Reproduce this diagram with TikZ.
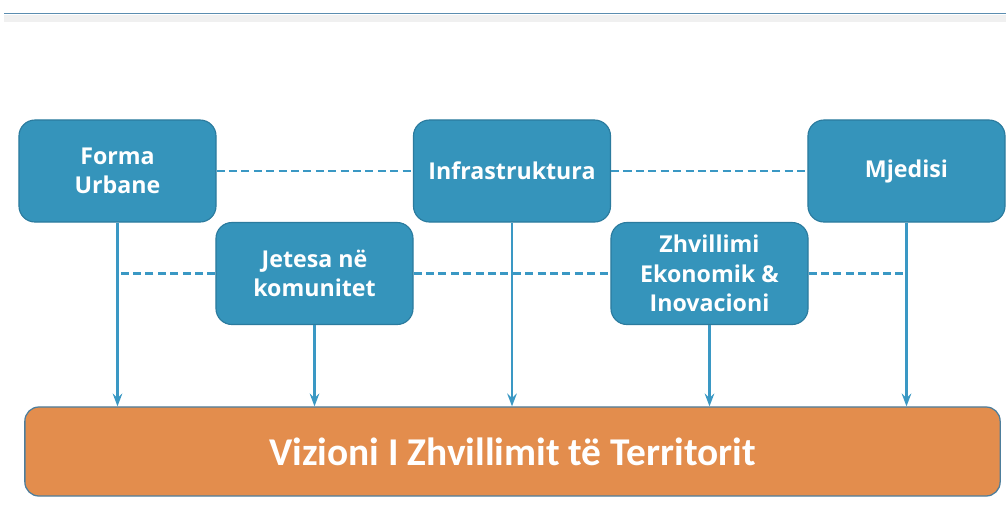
\documentclass[tikz,border=0pt]{standalone}
\usepackage{fontspec}
\setmainfont{Open Sans}
\newfontfamily\visionfont{Carlito}
\usepackage{tikz}
\usetikzlibrary{arrows.meta, positioning, calc}
\definecolor{boxblue}  {HTML}{3594BB}
\definecolor{boxedge}  {HTML}{2B7B9E}
\definecolor{linkblue} {HTML}{3A98C4}
\definecolor{visionor} {HTML}{E38D4D}
\definecolor{visionedge}{HTML}{4D7E9C}
\definecolor{ruleblue} {HTML}{5B8DB0}
\definecolor{rulegray} {HTML}{F0F0F0}
\tikzset{
  pillar/.style={
    rectangle, rounded corners=0.4cm,
    minimum width=4.925cm, minimum height=2.55cm,
    text centered, align=center, font=\fontsize{16.5}{21}\selectfont\bfseries,
    draw=boxedge, fill=boxblue, text=white, line width=0.8pt
  },
  vision/.style={
    rectangle, rounded corners=0.35cm,
    minimum width=24.375cm, minimum height=2.225cm,
    text centered, font=\visionfont\fontsize{28}{30}\selectfont\bfseries,
    draw=visionedge, fill=visionor, text=white, line width=0.9pt
  },
  feedarrow/.style={-{Stealth[length=3.2mm, width=2.4mm, inset=1.1mm]}, line width=1.5pt, color=linkblue},
  dashlink/.style={line width=1.6pt, color=linkblue, dash pattern=on 2mm off 1.1mm}
}
\begin{document}
\begin{tikzpicture}[x=0.025cm, y=-0.025cm]
  \useasboundingbox (0,0) rectangle (1006,522);
  % header rule
  \fill[rulegray] (4,15) rectangle (1006,22);
  \draw[ruleblue, line width=1.4pt] (4,13.5) -- (1006,13.5);

  \node[pillar] (fu)  at (117.5,171)   {Forma\\Urbane};
  \node[pillar] (inf) at (512,171)     {Infrastruktura};
  \node[pillar] (mje) at (906.5,171)   {Mjedisi};
  \node[pillar] (jet) at (314.5,273.5) {Jetesa në\\komunitet};
  \node[pillar] (zhv) at (709.5,273.5) {Zhvillimi\\Ekonomik \&\\Inovacioni};
  \node[vision] (viz) at (512.5,451.5) {Vizioni I Zhvillimit të Territorit};

  \foreach \a in {fu, jet, inf, zhv, mje}{
    \draw[feedarrow] (\a.south) -- (\a.south |- viz.north);
  }

  \foreach \a/\b in {fu/inf, inf/mje, jet/zhv}{
    \draw[dashlink] (\a.east) -- (\b.west);
  }
  \draw[dashlink] (jet.west) -- (jet.west -| fu.south);
  \draw[dashlink] (zhv.east) -- (zhv.east -| mje.south);
\end{tikzpicture}
\end{document}
